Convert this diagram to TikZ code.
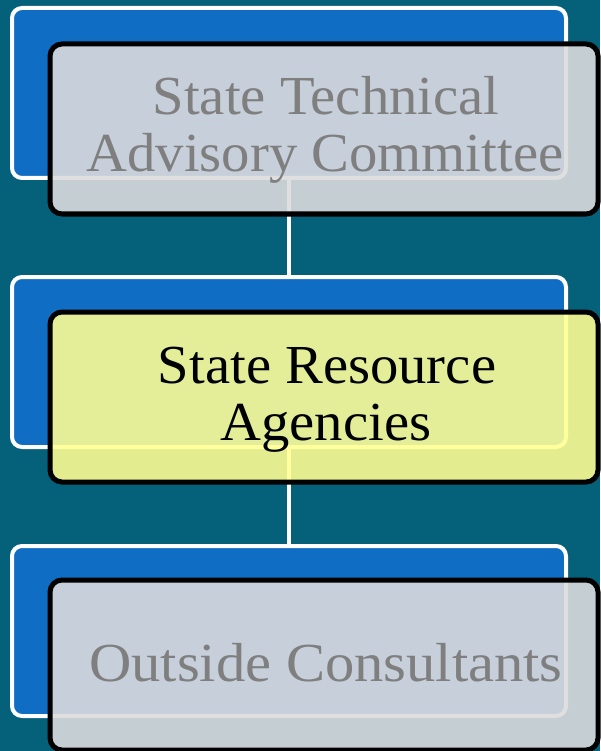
\documentclass[tikz,border=0pt]{standalone}
\usepackage{fontspec}
\setmainfont{Liberation Serif}[FakeStretch=1.03]
\newfontfamily\widerserif{Liberation Serif}[FakeStretch=1.065]
\definecolor{bgteal}{HTML}{05607A}
\definecolor{backblue}{HTML}{0F6DC4}
\definecolor{frontgrey}{HTML}{DDDCDD}
\definecolor{frontyellow}{HTML}{FFFF93}
\definecolor{textgrey}{HTML}{7F7F7F}
\tikzset{
  backbox/.style={rectangle, rounded corners=10pt, draw=white, line width=4pt, fill=backblue,
    minimum width=554pt, minimum height=170pt, inner sep=0pt, outer sep=0pt},
  frontbox/.style={rectangle, rounded corners=12pt, draw=black, line width=5pt,
    fill opacity=0.89, draw opacity=1,
    minimum width=548pt, minimum height=170pt, inner sep=0pt, outer sep=0pt},
  greybox/.style={frontbox, fill=frontgrey},
  yellowbox/.style={frontbox, fill=frontyellow},
  boxtext/.style={anchor=base, inner sep=0pt, font=\fontsize{55}{57}\selectfont},
  greytext/.style={boxtext, text=textgrey},
  darktext/.style={boxtext, text=black},
  link/.style={draw=white, line width=4pt}
}
\begin{document}
\begin{tikzpicture}[x=1pt,y=-1pt]
\fill[bgteal] (0,0) rectangle (600,751);
\useasboundingbox (0,0) rectangle (600,751);
\node[backbox] (b1) at (289,93) {};
\node[backbox] (b2) at (289,362) {};
\node[backbox] (b3) at (289,631) {};
\draw[link] (b1.south) -- (b2.north);
\draw[link] (b2.south) -- (b3.north);
\node[greybox] (g1) at (324,129) {};
\node[yellowbox] (g2) at (324,397) {};
\node[greybox] (g3) at (324,665) {};
\node[greytext] (t1a) at (326,115) {State Technical};
\node[greytext] (t1b) at (325,172) {Advisory Committee};
\node[darktext] (t2a) at (327,383) {State Resource};
\node[darktext] (t2b) at (326,440) {Agencies};
\node[greytext, font=\widerserif\fontsize{55}{57}\selectfont] (t3) at (326,681) {Outside Consultants};
\end{tikzpicture}
\end{document}
